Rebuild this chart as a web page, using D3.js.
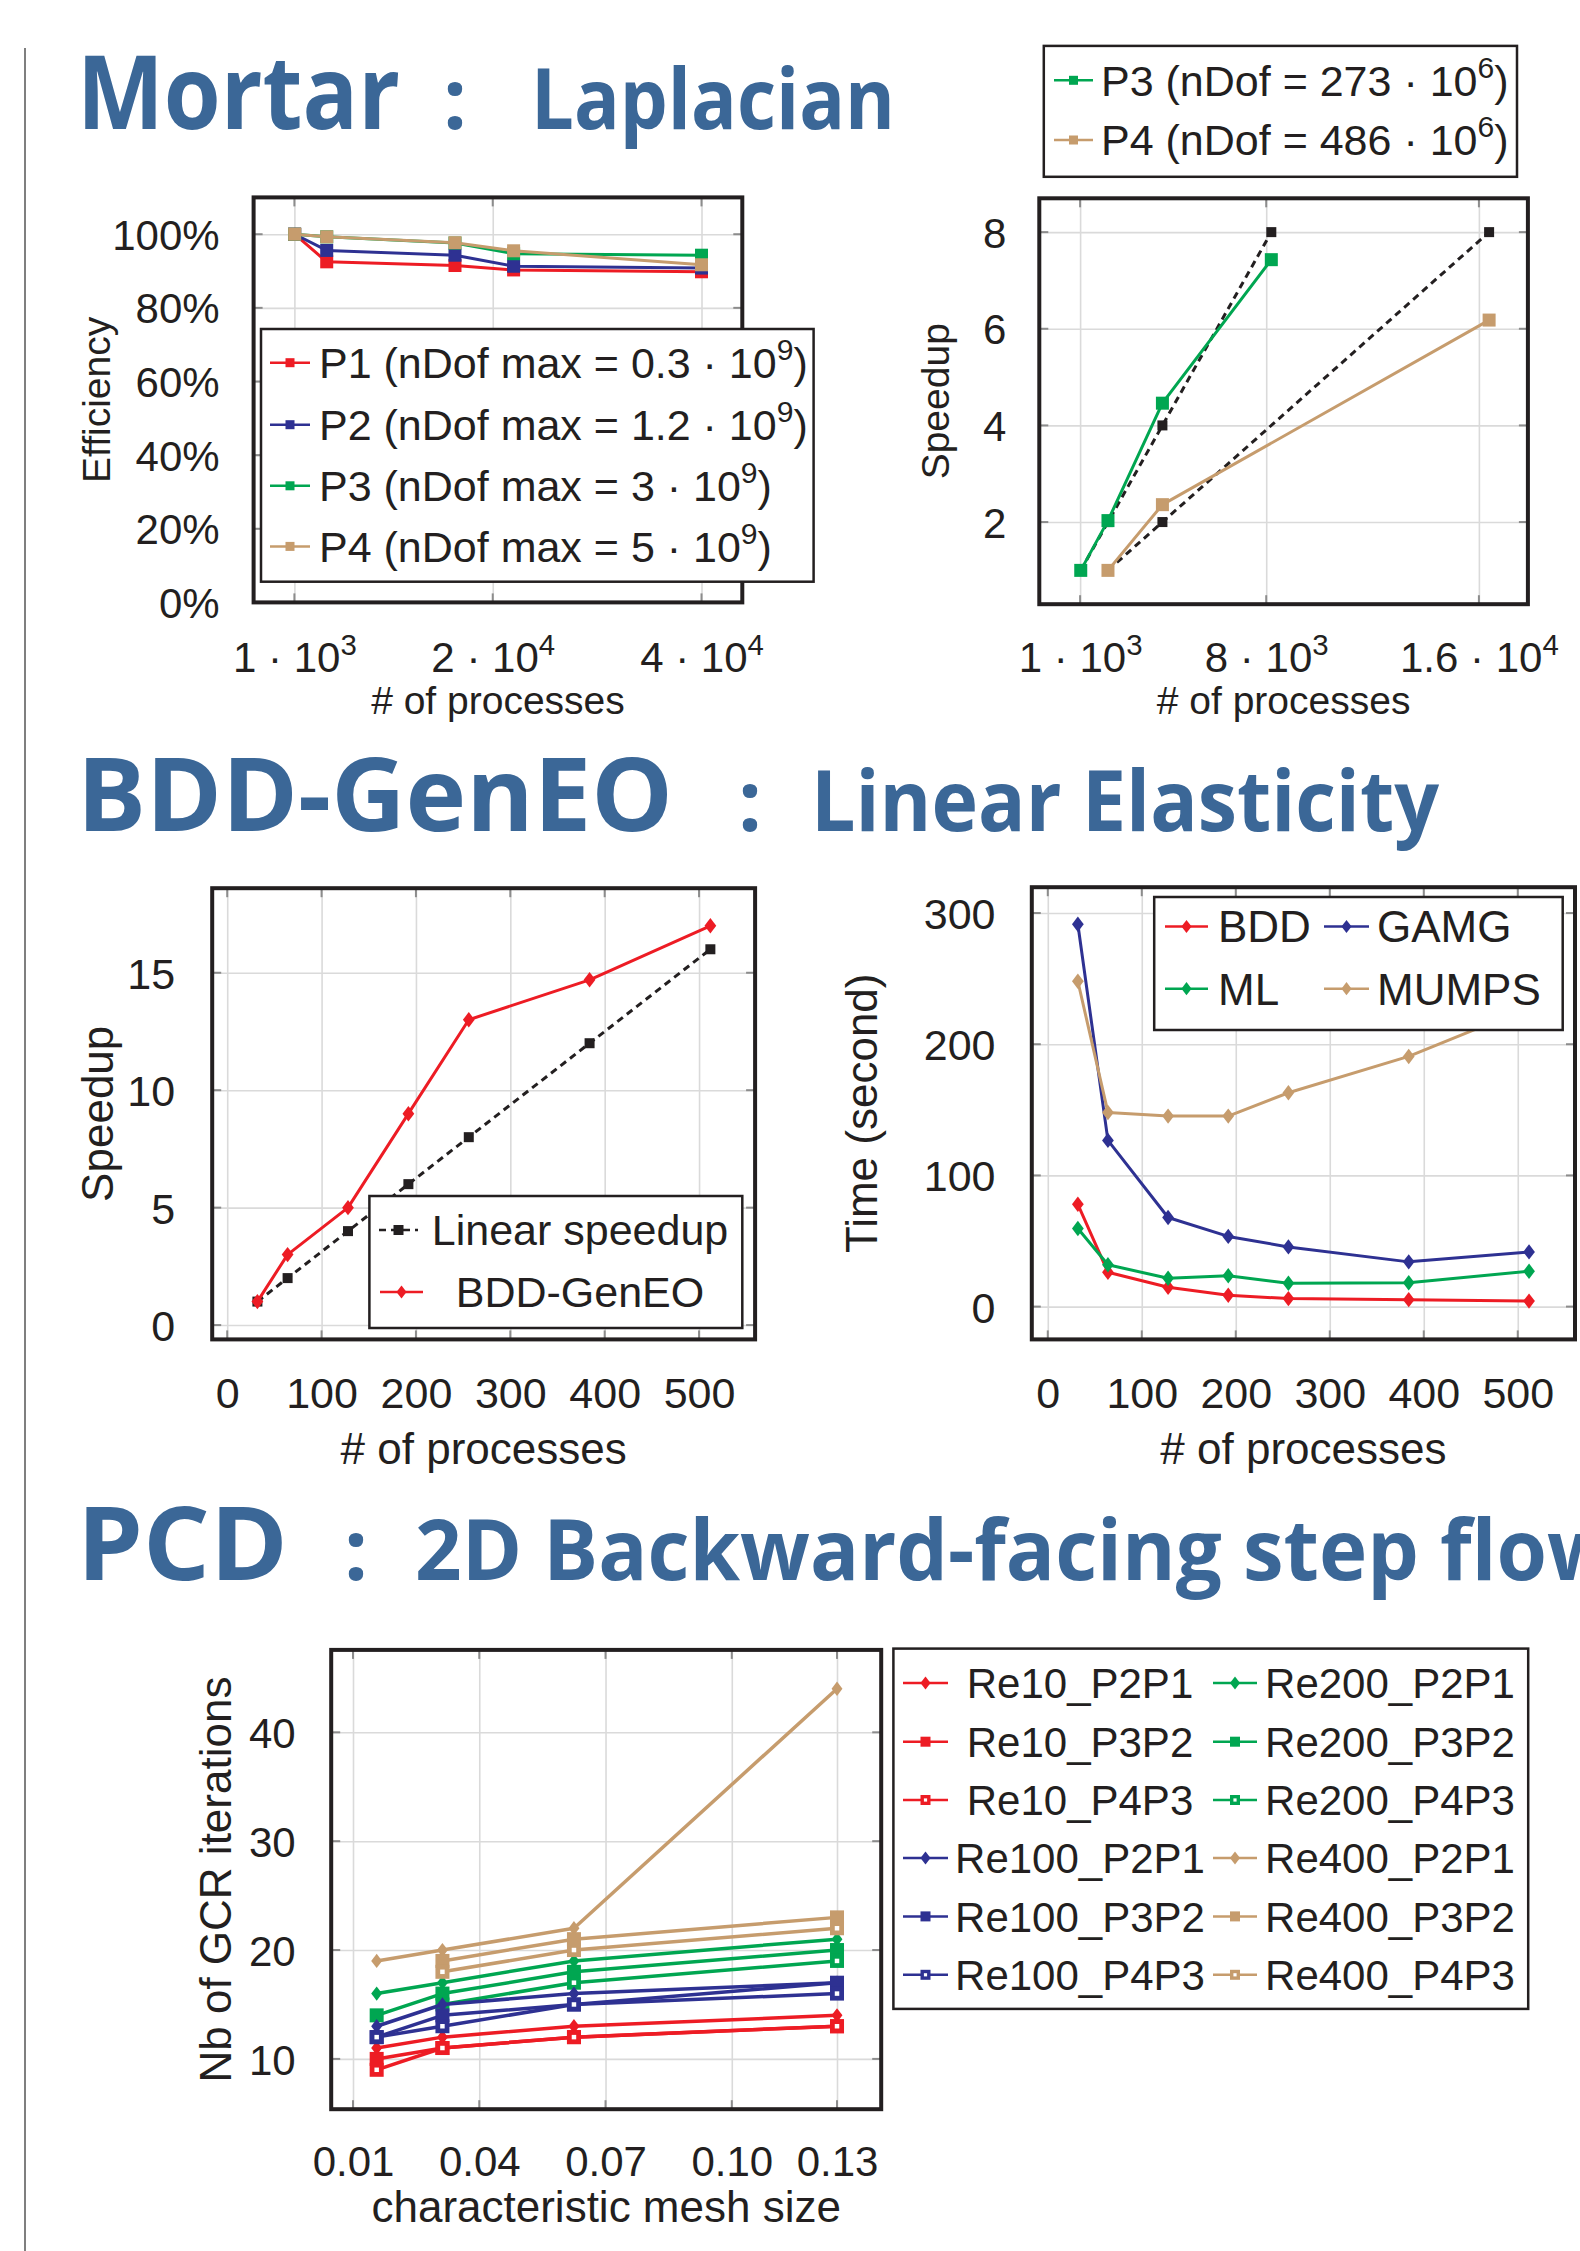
<!DOCTYPE html>
<html>
<head>
<meta charset="utf-8">
<script src="https://cdn.jsdelivr.net/npm/d3@7"></script>
<style>
  body { margin: 0; background: #fff; }
  svg { display: block; }
  text { font-family: "Liberation Sans", Arial, sans-serif; }
  .title { font-family: "Open Sans", "Noto Sans", sans-serif; font-weight: 700; fill: #3b6797; }
</style>
</head>
<body>
<svg id="chart" width="1580" height="2251"></svg>
<script>

// ---- Mortar : efficiency (weak scaling) ----
var effProcs = [1024, 4096, 16384, 22000, 40000];
var effP1 = [100, 92.5, 91.5, 90.3, 89.8];
var effP2 = [100, 95.6, 94.3, 91.3, 90.8];
var effP3 = [100, 99.3, 97.6, 94.7, 94.3];
var effP4 = [100, 99.3, 97.7, 95.5, 91.7];
var effNames = ["P1 (nDof max = 0.3 · 10^9)", "P2 (nDof max = 1.2 · 10^9)",
                "P3 (nDof max = 3 · 10^9)", "P4 (nDof max = 5 · 10^9)"];
var effXTicks = [1000, 20000, 40000];
var effXLabels = ["1 · 10^3", "2 · 10^4", "4 · 10^4"];
var effYTicks = [0, 20, 40, 60, 80, 100];
var effYLabels = ["0%", "20%", "40%", "60%", "80%", "100%"];

// ---- Mortar : speedup (strong scaling) ----
var spP3Procs = [1024, 2048, 4096, 8192];
var spP3 = [1, 2.03, 4.46, 7.43];
var linP3 = [1, 2, 4, 8];
var spP4Procs = [2048, 4096, 16384];
var spP4 = [1, 2.36, 6.18];
var linP4 = [1, 2, 8];
var spNames = ["P3 (nDof = 273 · 10^6)", "P4 (nDof = 486 · 10^6)"];
var spXTicks = [1000, 8000, 16000];
var spXLabels = ["1 · 10^3", "8 · 10^3", "1.6 · 10^4"];
var spYTicks = [2, 4, 6, 8];

// ---- BDD-GenEO ----
var bddProcs = [32, 64, 128, 192, 256, 384, 512];
var linearSpeedup = [1, 2, 4, 6, 8, 12, 16];
var bddSpeedup = [1, 3, 5, 9, 13, 14.7, 17];
var bddNames = ["Linear speedup", "BDD-GenEO"];
var procTicks = [0, 100, 200, 300, 400, 500];
var bddYTicks = [0, 5, 10, 15];

var timeBDD = [78, 26.2, 14.8, 8.7, 6.1, 5.3, 4.2];
var timeGAMG = [291.5, 126.7, 67.9, 53.5, 45.5, 34.1, 41.7];
var timeML = [59.5, 31.9, 21.6, 23.5, 17.8, 18.2, 26.9];
var timeMUMPS = [248, 148, 145.2, 145.2, 163, 190.7, 228];
var timeNames = ["BDD", "GAMG", "ML", "MUMPS"];
var timeYTicks = [0, 100, 200, 300];

// ---- PCD ----
var meshSizes = [0.015625, 0.03125, 0.0625, 0.125];
var re10_P2P1 = [11, 12, 13, 14];
var re10_P3P2 = [10, 11, 12, 13];
var re10_P4P3 = [9, 11, 12, 13];
var re100_P2P1 = [13, 15, 16, 17];
var re100_P3P2 = [12, 14, 15, 17];
var re100_P4P3 = [12, 13, 15, 16];
var re200_P2P1 = [16, 17, 19, 21];
var re200_P3P2 = [14, 16, 18, 20];
var re200_P4P3 = [null, 15, 17, 19];
var re400_P2P1 = [19, 20, 22, 44];
var re400_P3P2 = [null, 19, 21, 23];
var re400_P4P3 = [null, 18, 20, 22];
var pcdXTicks = [0.01, 0.04, 0.07, 0.10, 0.125];
var pcdXLabels = ["0.01", "0.04", "0.07", "0.10", "0.13"];
var pcdYTicks = [10, 20, 30, 40];

var RED = "#ed1c24", BLUE = "#2e3192", GREEN = "#00a651", TAN = "#c69c6d", INK = "#231f20";

var svg = d3.select("#chart");

// left rule
svg.append("line").attr("x1", 25).attr("x2", 25).attr("y1", 48).attr("y2", 2251)
    .attr("stroke", "#555").attr("stroke-width", 1.5);

// titles
function title(main, sub, base, mainW, colonX, subX, subW) {
  svg.append("text").attr("class", "title").attr("x", 77).attr("y", base)
      .attr("font-size", 102).attr("textLength", mainW).attr("lengthAdjust", "spacingAndGlyphs").text(main);
  svg.append("text").attr("class", "title").attr("x", colonX).attr("y", base)
      .attr("font-size", 84).attr("text-anchor", "middle").text(":");
  svg.append("text").attr("class", "title").attr("x", subX).attr("y", base)
      .attr("font-size", 84).attr("textLength", subW).attr("lengthAdjust", "spacingAndGlyphs").text(sub);
}
title("Mortar", "Laplacian", 129, 323, 455, 531, 364);
title("BDD-GenEO", "Linear Elasticity", 831, 596, 750, 811, 628);
title("PCD", "2D Backward-facing step flow", 1580, 211, 356, 415, 1202);

// text with ^n superscripts
function supText(sel, str, size) {
  var parts = str.split(/\^(\d+)/);
  sel.text(null);
  var shift = 0;
  parts.forEach(function(p, i) {
    if (p === "") return;
    var t = sel.append("tspan").text(p);
    if (i % 2 === 1) {
      t.attr("font-size", size * 0.7).attr("dy", -size * 0.42);
      shift = size * 0.42;
    } else if (shift) {
      t.attr("dy", shift);
      shift = 0;
    }
  });
}

function marker(g, type, cx, cy, color, size) {
  if (type === "diamond") {
    var hw = size * 0.42, hh = size * 0.55;
    g.append("path")
        .attr("d", "M" + cx + "," + (cy - hh) + "L" + (cx + hw) + "," + cy + "L" + cx + "," + (cy + hh) + "L" + (cx - hw) + "," + cy + "Z")
        .attr("fill", color);
  } else if (type === "square") {
    g.append("rect").attr("x", cx - size / 2).attr("y", cy - size / 2)
        .attr("width", size).attr("height", size).attr("fill", color);
  } else if (type === "osquare") {
    var sw = size * 0.34;
    g.append("rect").attr("x", cx - (size - sw) / 2).attr("y", cy - (size - sw) / 2)
        .attr("width", size - sw).attr("height", size - sw)
        .attr("fill", "#fff").attr("stroke", color).attr("stroke-width", sw);
  }
}

function makePlot(c) {
  var g = svg.append("g");
  var x = d3.scaleLinear().domain(c.xDomain).range([c.left, c.right]);
  var y = d3.scaleLinear().domain(c.yDomain).range([c.bottom, c.top]);
  var w = c.right - c.left, h = c.bottom - c.top;

  // grid
  var gx = g.append("g").attr("transform", "translate(0," + c.bottom + ")")
      .call(d3.axisBottom(x).tickValues(c.xTicks).tickSize(-h).tickFormat(""));
  var gy = g.append("g").attr("transform", "translate(" + c.left + ",0)")
      .call(d3.axisLeft(y).tickValues(c.yTicks).tickSize(-w).tickFormat(""));
  [gx, gy].forEach(function(a) {
    a.select(".domain").remove();
    a.selectAll("line").attr("stroke", "#dadada").attr("stroke-width", 1.6);
  });

  // little tick marks on the inner side of the frame
  var stubs = g.append("g").attr("stroke", "#8c8c8c").attr("stroke-width", 2);
  c.xTicks.forEach(function(t) {
    stubs.append("line").attr("x1", x(t)).attr("x2", x(t)).attr("y1", c.top).attr("y2", c.top + 9);
    stubs.append("line").attr("x1", x(t)).attr("x2", x(t)).attr("y1", c.bottom - 9).attr("y2", c.bottom);
  });
  c.yTicks.forEach(function(t) {
    stubs.append("line").attr("y1", y(t)).attr("y2", y(t)).attr("x1", c.left).attr("x2", c.left + 9);
    stubs.append("line").attr("y1", y(t)).attr("y2", y(t)).attr("x1", c.right - 9).attr("x2", c.right);
  });

  // tick labels
  var xl = g.append("g").attr("transform", "translate(0," + c.bottom + ")")
      .call(d3.axisBottom(x).tickValues(c.xTicks).tickSize(0)
        .tickFormat(function(d, i) { return c.xLabels ? c.xLabels[i] : d; }));
  xl.select(".domain").remove();
  xl.attr("font-size", null).attr("font-family", null);
  xl.selectAll("text").attr("y", c.xLabelBase).attr("dy", null).attr("fill", INK)
      .attr("font-size", c.tickFont)
      .each(function(d, i) { supText(d3.select(this), c.xLabels ? c.xLabels[i] : String(d), c.tickFont); });

  var yl = g.append("g").attr("transform", "translate(" + c.left + ",0)")
      .call(d3.axisLeft(y).tickValues(c.yTicks).tickSize(0).tickPadding(c.yLabelPad)
        .tickFormat(function(d, i) { return c.yLabels ? c.yLabels[i] : d; }));
  yl.select(".domain").remove();
  yl.attr("font-size", null).attr("font-family", null);
  yl.selectAll("text").attr("dy", "0.36em").attr("fill", INK).attr("font-size", c.tickFont);

  // axis titles
  g.append("text").attr("x", (c.left + c.right) / 2).attr("y", c.xTitleBase)
      .attr("text-anchor", "middle").attr("font-size", c.titleFont).attr("fill", INK).text(c.xTitle);
  g.append("text").attr("transform", "translate(" + c.yTitleX + "," + (c.top + c.bottom) / 2 + ") rotate(-90)")
      .attr("text-anchor", "middle").attr("font-size", c.titleFont).attr("fill", INK).text(c.yTitle);

  var data = g.append("g");
  var over = g.append("g");
  return { g: data, over: over, x: x, y: y, c: c };
}

function frame(p) {
  var c = p.c;
  p.over.append("rect").attr("x", c.left).attr("y", c.top)
      .attr("width", c.right - c.left).attr("height", c.bottom - c.top)
      .attr("fill", "none").attr("stroke", INK).attr("stroke-width", 4);
}

function addSeries(p, xs, ys, s) {
  var pts = xs.map(function(v, i) { return [v, ys[i]]; }).filter(function(d) { return d[1] != null; });
  var line = d3.line().x(function(d) { return p.x(d[0]); }).y(function(d) { return p.y(d[1]); });
  p.g.append("path").attr("d", line(pts)).attr("fill", "none")
      .attr("stroke", s.color).attr("stroke-width", s.width || 3)
      .attr("stroke-dasharray", s.dash || null).attr("stroke-linejoin", "round");
  pts.forEach(function(d) { marker(p.g, s.marker, p.x(d[0]), p.y(d[1]), s.color, s.size); });
}

function legendBox(p, x0, y0, x1, y1) {
  p.over.append("rect").attr("x", x0).attr("y", y0).attr("width", x1 - x0).attr("height", y1 - y0)
      .attr("fill", "#fff").attr("stroke", INK).attr("stroke-width", 2.5);
}

function legendEntry(p, e) {
  p.over.append("line").attr("x1", e.l0).attr("x2", e.l1).attr("y1", e.y).attr("y2", e.y)
      .attr("stroke", e.s.color).attr("stroke-width", e.s.lw || 2.5).attr("stroke-dasharray", e.s.dash || null);
  marker(p.over, e.s.marker, (e.l0 + e.l1) / 2, e.y, e.s.color, e.s.lsize || 9);
  var t = p.over.append("text").attr("x", e.tx).attr("y", e.y).attr("dy", "0.36em")
      .attr("text-anchor", e.anchor || "start").attr("font-size", e.size).attr("fill", INK);
  supText(t, e.label, e.size);
}

// ================= Mortar efficiency =================
var pA = makePlot({
  left: 253.6, right: 742.3, top: 197.4, bottom: 602.4,
  xDomain: [-2908, 43908], yDomain: [0, 110],
  xTicks: effXTicks, xLabels: effXLabels, yTicks: effYTicks, yLabels: effYLabels,
  xLabelBase: 70, yLabelPad: 34, tickFont: 42, titleFont: 39,
  xTitle: "# of processes", xTitleBase: 714, yTitle: "Efficiency", yTitleX: 110
});
var effSeries = [effP1, effP2, effP3, effP4];
var effStyles = [
  { color: RED, marker: "square", size: 13, width: 3 },
  { color: BLUE, marker: "square", size: 13, width: 3 },
  { color: GREEN, marker: "square", size: 13, width: 3 },
  { color: TAN, marker: "square", size: 13, width: 3 }
];
effSeries.forEach(function(ys, i) { addSeries(pA, effProcs, ys, effStyles[i]); });
frame(pA);
legendBox(pA, 261, 329, 813.6, 581.7);
[362.7, 424.7, 485.8, 546.4].forEach(function(yy, i) {
  legendEntry(pA, { y: yy, l0: 270, l1: 310, tx: 319, size: 43, label: effNames[i], s: effStyles[i] });
});

// ================= Mortar speedup =================
var pB = makePlot({
  left: 1039.3, right: 1527.9, top: 198.3, bottom: 604.2,
  xDomain: [-535, 17843], yDomain: [0.3, 8.7],
  xTicks: spXTicks, xLabels: spXLabels, yTicks: spYTicks,
  xLabelBase: 68, yLabelPad: 33, tickFont: 42, titleFont: 39,
  xTitle: "# of processes", xTitleBase: 714, yTitle: "Speedup", yTitleX: 949
});
var blackDash = { color: INK, marker: "square", size: 10, width: 3, dash: "7,5" };
addSeries(pB, spP3Procs, linP3, blackDash);
addSeries(pB, spP4Procs, linP4, blackDash);
var spStyles = [
  { color: GREEN, marker: "square", size: 13, width: 3 },
  { color: TAN, marker: "square", size: 13, width: 3 }
];
addSeries(pB, spP3Procs, spP3, spStyles[0]);
addSeries(pB, spP4Procs, spP4, spStyles[1]);
frame(pB);
legendBox(pB, 1043.8, 45.9, 1517, 176.8);
[80.3, 140].forEach(function(yy, i) {
  legendEntry(pB, { y: yy, l0: 1054, l1: 1093, tx: 1101, size: 43, label: spNames[i], s: spStyles[i] });
});

// ================= BDD-GenEO speedup =================
var pC = makePlot({
  left: 212.2, right: 755.1, top: 888.2, bottom: 1339.4,
  xDomain: [-15.9, 559.4], yDomain: [-0.61, 18.6],
  xTicks: procTicks, yTicks: bddYTicks,
  xLabelBase: 68.6, yLabelPad: 37, tickFont: 43, titleFont: 44,
  xTitle: "# of processes", xTitleBase: 1464, yTitle: "Speedup", yTitleX: 113
});
var bddStyles = [
  { color: INK, marker: "square", size: 10, width: 3, dash: "7,5", lsize: 10 },
  { color: RED, marker: "diamond", size: 14, width: 3, lsize: 12 }
];
addSeries(pC, bddProcs, linearSpeedup, bddStyles[0]);
addSeries(pC, bddProcs, bddSpeedup, bddStyles[1]);
frame(pC);
legendBox(pC, 369.4, 1196, 742.3, 1328);
legendEntry(pC, { y: 1230, l0: 379, l1: 418, tx: 580, anchor: "middle", size: 43, label: bddNames[0], s: bddStyles[0] });
legendEntry(pC, { y: 1292, l0: 380, l1: 423, tx: 580, anchor: "middle", size: 43, label: bddNames[1], s: bddStyles[1] });

// ================= BDD-GenEO time =================
var pD = makePlot({
  left: 1031.8, right: 1575, top: 887.2, bottom: 1339.4,
  xDomain: [-17, 560.9], yDomain: [-25, 319.7],
  xTicks: procTicks, yTicks: timeYTicks,
  xLabelBase: 68.2, yLabelPad: 36.3, tickFont: 43, titleFont: 44,
  xTitle: "# of processes", xTitleBase: 1464, yTitle: "Time (second)", yTitleX: 877
});
var timeSeries = [timeBDD, timeGAMG, timeML, timeMUMPS];
var timeStyles = [
  { color: RED, marker: "diamond", size: 14, width: 3, lsize: 12 },
  { color: BLUE, marker: "diamond", size: 14, width: 3, lsize: 12 },
  { color: GREEN, marker: "diamond", size: 14, width: 3, lsize: 12 },
  { color: TAN, marker: "diamond", size: 14, width: 3, lsize: 12 }
];
timeSeries.forEach(function(ys, i) { addSeries(pD, bddProcs, ys, timeStyles[i]); });
frame(pD);
legendBox(pD, 1154.2, 897, 1562.7, 1030);
timeNames.forEach(function(n, i) {
  var row = Math.floor(i / 2), col = i % 2;
  var l0 = col ? 1324 : 1165, l1 = col ? 1369 : 1208, tx = col ? 1377 : 1218;
  legendEntry(pD, { y: [926.5, 988.7][row], l0: l0, l1: l1, tx: tx, size: 44, label: n, s: timeStyles[i] });
});

// ================= PCD iterations =================
var pE = makePlot({
  left: 331.2, right: 881.2, top: 1649.9, bottom: 2109.2,
  xDomain: [0.00482, 0.1355], yDomain: [5.38, 47.57],
  xTicks: pcdXTicks, xLabels: pcdXLabels, yTicks: pcdYTicks,
  xLabelBase: 66.8, yLabelPad: 35.6, tickFont: 42, titleFont: 44,
  xTitle: "characteristic mesh size", xTitleBase: 2222, yTitle: "Nb of GCR iterations", yTitleX: 231
});
// legend order (two columns, filled row by row)
var pcdNames = ["Re10_P2P1", "Re200_P2P1", "Re10_P3P2", "Re200_P3P2", "Re10_P4P3", "Re200_P4P3",
                "Re100_P2P1", "Re400_P2P1", "Re100_P3P2", "Re400_P3P2", "Re100_P4P3", "Re400_P4P3"];
var pcdSeries = [re10_P2P1, re200_P2P1, re10_P3P2, re200_P3P2, re10_P4P3, re200_P4P3,
                 re100_P2P1, re400_P2P1, re100_P3P2, re400_P3P2, re100_P4P3, re400_P4P3];
var pcdColors = [RED, GREEN, RED, GREEN, RED, GREEN, BLUE, TAN, BLUE, TAN, BLUE, TAN];
var pcdMarkers = ["diamond", "diamond", "square", "square", "osquare", "osquare",
                  "diamond", "diamond", "square", "square", "osquare", "osquare"];
var pcdStyles = pcdSeries.map(function(s, i) {
  var m = pcdMarkers[i];
  return { color: pcdColors[i], marker: m, size: m === "diamond" ? 13 : 14, width: 3.5,
           lsize: m === "diamond" ? 12 : 10, lw: 2.5 };
});
pcdSeries.forEach(function(ys, i) { addSeries(pE, meshSizes, ys, pcdStyles[i]); });
frame(pE);
legendBox(pE, 893.4, 1648.6, 1528.2, 2008.9);
var pcdRows = [1683, 1741.7, 1800, 1858, 1916.4, 1974.8];
pcdNames.forEach(function(n, i) {
  var row = Math.floor(i / 2), col = i % 2;
  legendEntry(pE, { y: pcdRows[row], l0: col ? 1213 : 903, l1: col ? 1257 : 948,
                    tx: col ? 1390 : 1080, anchor: "middle", size: 42, label: n, s: pcdStyles[i] });
});

</script>
</body>
</html>
